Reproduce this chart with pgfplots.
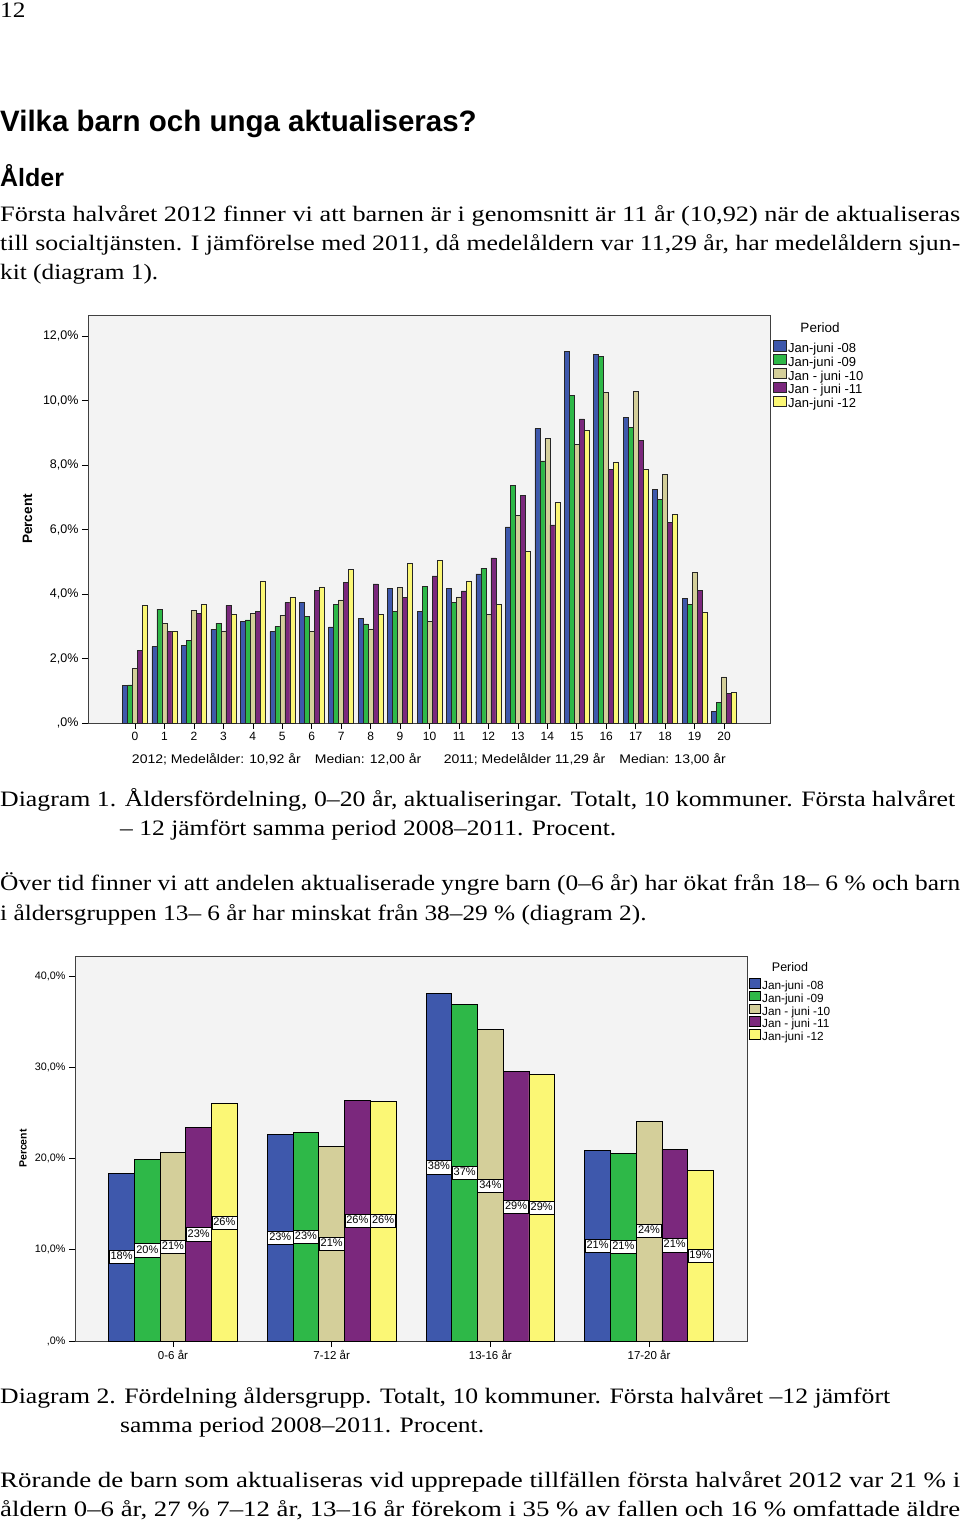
\documentclass[border=0pt]{standalone}
\usepackage{fontspec}
\setmainfont{Liberation Serif}
\newfontfamily\arial{Liberation Sans}
\usepackage{graphicx}
\usepackage{pgfplots}
\pgfplotsset{compat=1.18}

\definecolor{c1}{HTML}{3E58AC}
\definecolor{c2}{HTML}{2EB848}
\definecolor{c3}{HTML}{D4CF9A}
\definecolor{c4}{HTML}{7B287D}
\definecolor{c5}{HTML}{FBF775}
\definecolor{bg}{HTML}{F3F3F3}

\newcommand\fs[1]{\fontsize{#1pt}{#1pt}\selectfont}
\newcommand\jline[2]{\resizebox{#1}{\height}{#2}}
\newcommand\wide[1]{\scalebox{1.15}[1]{#1}}

\pgfplotsset{
  leg1/.style={legend image code/.code={\useasboundingbox (0pt,1pt) rectangle (13pt,6pt);\draw[##1] (0pt,-1.3pt) rectangle (13pt,9pt);}},
  leg2/.style={legend image code/.code={\useasboundingbox (0pt,1pt) rectangle (11pt,6pt);\draw[##1] (0pt,-1pt) rectangle (11pt,8.5pt);}},
}

\begin{document}
\begin{tikzpicture}[x=1pt,y=1pt]
\fill[white] (0,0) rectangle (960,-1521);
\useasboundingbox (0,0) rectangle (960,-1521);

% ---------- page text ----------
\node[anchor=base west,inner sep=0pt,font=\fs{22}] at (0,-17) {\wide{12}};
\node[anchor=base west,inner sep=0pt,font=\arial\bfseries\fs{29.5}] at (0,-131) {Vilka barn och unga aktualiseras?};
\node[anchor=base west,inner sep=0pt,font=\arial\bfseries\fs{25}] at (0,-186) {Ålder};
\node[anchor=base west,inner sep=0pt,font=\fs{22}] at (0,-221) {\jline{960pt}{Första halvåret 2012 finner vi att barnen är i genomsnitt är 11 år (10,92) när de aktualiseras}};
\node[anchor=base west,inner sep=0pt,font=\fs{22}] at (0,-250) {\jline{960pt}{till socialtjänsten. I jämförelse med 2011, då medelåldern var 11,29 år, har medelåldern sjun-}};
\node[anchor=base west,inner sep=0pt,font=\fs{22}] at (0,-279) {\wide{kit (diagram 1).}};

\node[anchor=base west,inner sep=0pt,font=\fs{22}] at (0,-806) {\jline{955pt}{Diagram 1. Åldersfördelning, 0–20 år, aktualiseringar. Totalt, 10 kommuner. Första halvåret}};
\node[anchor=base west,inner sep=0pt,font=\fs{22}] at (120,-835) {\jline{496pt}{– 12 jämfört samma period 2008–2011. Procent.}};
\node[anchor=base west,inner sep=0pt,font=\fs{22}] at (0,-890) {\jline{960pt}{Över tid finner vi att andelen aktualiserade yngre barn (0–6 år) har ökat från 18– 6 \% och barn}};
\node[anchor=base west,inner sep=0pt,font=\fs{22}] at (0,-920) {\wide{i åldersgruppen 13– 6 år har minskat från 38–29 \% (diagram 2).}};

\node[anchor=base west,inner sep=0pt,font=\fs{22}] at (0,-1403) {\jline{890pt}{Diagram 2. Fördelning åldersgrupp. Totalt, 10 kommuner. Första halvåret –12 jämfört}};
\node[anchor=base west,inner sep=0pt,font=\fs{22}] at (120,-1432) {\jline{364pt}{samma period 2008–2011. Procent.}};
\node[anchor=base west,inner sep=0pt,font=\fs{22}] at (0,-1487) {\jline{960pt}{Rörande de barn som aktualiseras vid upprepade tillfällen första halvåret 2012 var 21 \% i}};
\node[anchor=base west,inner sep=0pt,font=\fs{22}] at (0,-1516) {\jline{960pt}{åldern 0–6 år, 27 \% 7–12 år, 13–16 år förekom i 35 \% av fallen och 16 \% omfattade äldre}};

% ---------- Diagram 1 ----------
\begin{axis}[
  at={(88pt,-723pt)}, anchor=south west,
  scale only axis, width=682pt, height=408pt,
  xmin=-1.596, xmax=21.56, ymin=0, ymax=12.65,
  ybar=0pt, bar width=5pt,
  axis background/.style={fill=bg},
  axis line style={draw=black!75, line width=0.8pt},
  tick align=outside, major tick length=6pt,
  xtick pos=bottom, ytick pos=left,
  tick style={black, line width=0.6pt},
  xtick={0,...,20},
  xticklabels={0,1,2,3,4,5,6,7,8,9,10,11,12,13,14,15,16,17,18,19,20},
  ytick={0,2,4,6,8,10,12},
  yticklabels={{,0\%},{2,0\%},{4,0\%},{6,0\%},{8,0\%},{10,0\%},{12,0\%}},
  tick label style={font=\arial\fs{12.5}},
  xticklabel style={font=\arial\fs{12}},
  xlabel={\jline{594pt}{2012; Medelålder: 10,92 år\quad Median: 12,00 år\hspace{1.6em}2011; Medelålder 11,29 år\quad Median: 13,00 år}},
  xlabel style={at={(axis description cs:0.5,0)}, anchor=base, yshift=-40pt, font=\arial\fs{12.5}, inner sep=0pt},
  ylabel={Percent},
  ylabel style={at={(axis description cs:-0.0887,0.5)}, anchor=center, rotate=0, font=\arial\bfseries\fs{13.6}},
  legend style={at={(rel axis cs:1,1)}, anchor=north west, xshift=3pt, yshift=-27.5pt, draw=none, fill=none, inner sep=0pt,
    font=\arial\fs{13}, nodes={inner sep=1.5pt, text height=8.2pt, text depth=2.6pt}, row sep=0pt},
  legend cell align=left,
]
\addplot[fill=c1, draw=black!85, line width=0.5pt, leg1] coordinates {(0,1.16) (1,2.37) (2,2.41) (3,2.91) (4,3.15) (5,2.83) (6,3.75) (7,2.98) (8,3.25) (9,4.17) (10,3.45) (11,4.17) (12,4.62) (13,6.08) (14,9.13) (15,11.53) (16,11.42) (17,9.47) (18,7.25) (19,3.86) (20,0.35)};
\addplot[fill=c2, draw=black!85, line width=0.5pt, leg1] coordinates {(0,1.18) (1,3.53) (2,2.56) (3,3.10) (4,3.20) (5,2.99) (6,3.31) (7,3.67) (8,3.07) (9,3.45) (10,4.23) (11,3.74) (12,4.80) (13,7.36) (14,8.13) (15,10.15) (16,11.37) (17,9.17) (18,6.93) (19,3.67) (20,0.64)};
\addplot[fill=c3, draw=black!85, line width=0.5pt, leg1] coordinates {(0,1.69) (1,3.09) (2,3.50) (3,2.86) (4,3.41) (5,3.34) (6,2.83) (7,3.82) (8,2.92) (9,4.20) (10,3.15) (11,3.91) (12,3.37) (13,6.44) (14,8.82) (15,8.64) (16,10.25) (17,10.28) (18,7.71) (19,4.67) (20,1.43)};
\addplot[fill=c4, draw=black!85, line width=0.5pt, leg1] coordinates {(0,2.25) (1,2.85) (2,3.41) (3,3.65) (4,3.45) (5,3.73) (6,4.11) (7,4.35) (8,4.31) (9,3.90) (10,4.56) (11,4.10) (12,5.12) (13,7.05) (14,6.14) (15,9.43) (16,7.86) (17,8.77) (18,6.21) (19,4.11) (20,0.92)};
\addplot[fill=c5, draw=black!85, line width=0.5pt, leg1] coordinates {(0,3.65) (1,2.83) (2,3.67) (3,3.37) (4,4.41) (5,3.90) (6,4.22) (7,4.76) (8,3.37) (9,4.96) (10,5.04) (11,4.41) (12,3.67) (13,5.31) (14,6.84) (15,9.08) (16,8.10) (17,7.86) (18,6.47) (19,3.44) (20,0.95)};
\legend{Jan-juni -08, Jan-juni -09, Jan - juni -10, Jan - juni -11, Jan-juni -12}
\end{axis}
\node[font=\arial\fs{13.5}] at (820,-327.5) {Period};

% ---------- Diagram 2 ----------
\begin{axis}[
  at={(75pt,-1341pt)}, anchor=south west,
  scale only axis, width=672pt, height=385pt,
  xmin=-0.6175, xmax=3.6175, ymin=0, ymax=42.19,
  ybar=0pt, bar width=25.7pt,
  axis background/.style={fill=bg},
  axis line style={draw=black!75, line width=0.8pt},
  tick align=outside, major tick length=6pt,
  xtick pos=bottom, ytick pos=left,
  tick style={black, line width=0.6pt},
  xtick={0,1,2,3},
  xticklabels={0-6 år,7-12 år,13-16 år,17-20 år},
  ytick={0,10,20,30,40},
  yticklabels={{,0\%},{10,0\%},{20,0\%},{30,0\%},{40,0\%}},
  tick label style={font=\arial\fs{10.8}},
  xticklabel style={font=\arial\fs{11.5}},
  ylabel={Percent},
  ylabel style={at={(axis description cs:-0.0774,0.5)}, anchor=center, rotate=0, font=\arial\bfseries\fs{10.5}},
  nodes near coords, point meta=explicit symbolic,
  visualization depends on={y \as \rawy},
  every node near coord/.append style={anchor=center, shift={(axis direction cs:0,-\rawy/2)}, fill=white, draw=black, line width=0.5pt, inner sep=1.6pt, font=\arial\fs{11}, text height=7.8pt, text depth=2.2pt},
  legend style={at={(rel axis cs:1,1)}, anchor=north west, xshift=2pt, yshift=-24.5pt, draw=none, fill=none, inner sep=0pt,
    font=\arial\fs{11.8}, nodes={inner sep=1.2pt, text height=7.6pt, text depth=2.75pt}, row sep=0pt},
  legend cell align=left,
]
\addplot[fill=c1, draw=black, line width=0.7pt, leg2] coordinates {(0,18.4) [18\%] (1,22.6) [23\%] (2,38.1) [38\%] (3,20.9) [21\%]};
\addplot[fill=c2, draw=black, line width=0.7pt, leg2] coordinates {(0,19.9) [20\%] (1,22.9) [23\%] (2,36.9) [37\%] (3,20.6) [21\%]};
\addplot[fill=c3, draw=black, line width=0.7pt, leg2] coordinates {(0,20.7) [21\%] (1,21.3) [21\%] (2,34.1) [34\%] (3,24.1) [24\%]};
\addplot[fill=c4, draw=black, line width=0.7pt, leg2] coordinates {(0,23.4) [23\%] (1,26.4) [26\%] (2,29.5) [29\%] (3,21.0) [21\%]};
\addplot[fill=c5, draw=black, line width=0.7pt, leg2] coordinates {(0,26.0) [26\%] (1,26.3) [26\%] (2,29.2) [29\%] (3,18.7) [19\%]};
\legend{Jan-juni -08, Jan-juni -09, Jan - juni -10, Jan - juni -11, Jan-juni -12}
\end{axis}
\node[font=\arial\fs{12.5}] at (790,-967.5) {Period};
\end{tikzpicture}
\end{document}
